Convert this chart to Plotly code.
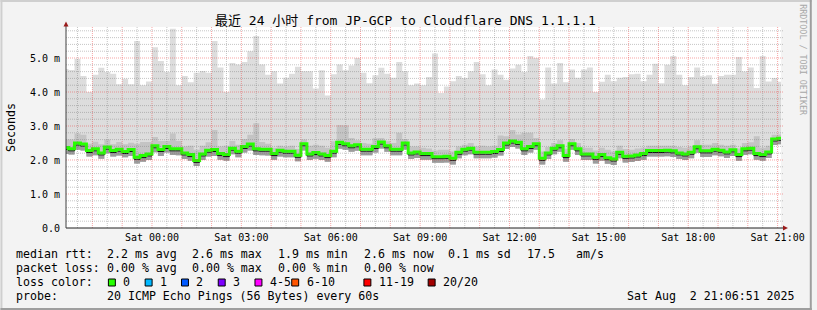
import plotly.graph_objects as go
import pandas as pd

# ---------------- data ----------------
# one value per 12-minute column, first column starts Fri 2025-08-01 21:00
max_ms = [4.68, 4.65, 4.98, 4.47, 4.00, 4.51, 4.71, 4.59, 4.54, 4.23, 4.39,
          4.23, 5.50, 4.20, 4.31, 5.32, 4.91, 4.59, 5.86, 4.20, 4.47,
          4.29, 4.57, 4.62, 4.57, 5.50, 4.72, 4.00, 4.85, 4.81, 4.88,
          5.20, 5.65, 4.81, 4.51, 4.61, 4.25, 4.42, 4.54, 4.74, 4.61,
          4.61, 4.10, 4.64, 3.90, 4.52, 4.81, 4.64, 4.78, 5.00, 4.57,
          4.26, 4.49, 4.71, 4.54, 4.42, 4.88, 4.61, 4.20, 4.25, 4.20,
          4.44, 5.13, 3.97, 4.16, 4.32, 4.47, 4.41, 4.61, 4.88, 4.52,
          4.20, 4.66, 4.51, 4.36, 4.69, 4.80, 4.59, 5.06, 5.00, 3.78,
          4.72, 4.25, 4.85, 4.29, 4.66, 4.42, 4.66, 4.72, 4.00, 4.30,
          4.51, 4.32, 4.42, 4.44, 4.52, 4.54, 4.32, 4.51, 4.83, 4.26,
          4.80, 5.06, 4.51, 4.20, 4.44, 4.72, 4.46, 4.49, 4.24, 4.47,
          4.51, 4.51, 5.03, 4.60, 4.72, 4.12, 5.06, 4.31, 4.41, 4.30]

upper_ms = [2.60, 2.60, 2.78, 2.74, 2.48, 2.54, 2.46, 2.60, 2.46, 2.53, 2.46,
            2.51, 2.48, 2.53, 2.53, 2.68, 2.56, 2.56, 2.78, 2.56, 2.40,
            2.42, 2.30, 2.42, 2.52, 2.88, 2.40, 2.42, 2.56, 2.45, 2.62,
            2.74, 3.08, 2.53, 2.48, 2.36, 2.42, 2.40, 2.42, 2.32, 2.60,
            2.42, 2.45, 2.42, 2.36, 2.55, 3.03, 3.02, 2.65, 2.58, 2.50,
            2.48, 2.64, 2.65, 2.55, 2.50, 2.80, 2.62, 2.40, 2.40, 2.36,
            2.34, 2.28, 2.30, 2.30, 2.25, 2.40, 2.45, 2.50, 2.40, 2.42,
            2.40, 2.42, 2.72, 2.70, 2.88, 2.75, 2.80, 2.80, 2.65, 2.25,
            2.38, 2.50, 2.58, 2.33, 2.62, 2.50, 2.36, 2.36, 2.28, 2.36,
            2.30, 2.25, 2.42, 2.32, 2.30, 2.34, 2.36, 2.42, 2.42, 2.42,
            2.42, 2.42, 2.38, 2.36, 2.40, 2.58, 2.45, 2.45, 2.50, 2.45,
            2.42, 2.45, 2.34, 2.50, 2.52, 2.70, 2.36, 2.42, 2.74, 2.75]

median_ms = [2.31, 2.27, 2.44, 2.41, 2.22, 2.27, 2.15, 2.32, 2.22, 2.26, 2.19,
             2.25, 2.02, 2.07, 2.12, 2.36, 2.25, 2.34, 2.27, 2.27, 2.15,
             2.10, 1.93, 2.12, 2.23, 2.25, 2.13, 2.10, 2.29, 2.20, 2.34,
             2.41, 2.27, 2.26, 2.26, 2.13, 2.23, 2.20, 2.20, 2.08, 2.42,
             2.12, 2.16, 2.12, 2.07, 2.20, 2.46, 2.42, 2.36, 2.39, 2.26,
             2.26, 2.34, 2.47, 2.36, 2.26, 2.26, 2.44, 2.15, 2.18, 2.13,
             2.13, 2.04, 2.04, 2.05, 1.99, 2.17, 2.26, 2.29, 2.17, 2.17,
             2.17, 2.19, 2.25, 2.44, 2.50, 2.46, 2.27, 2.34, 2.42, 1.99,
             2.15, 2.29, 2.36, 2.07, 2.42, 2.27, 2.12, 2.12, 2.02, 2.10,
             2.01, 1.97, 2.17, 2.05, 2.06, 2.09, 2.13, 2.22, 2.22, 2.22,
             2.23, 2.21, 2.15, 2.12, 2.17, 2.33, 2.21, 2.21, 2.26, 2.23,
             2.18, 2.24, 2.10, 2.27, 2.29, 2.13, 2.10, 2.18, 2.56, 2.58]

min_ms = [2.18, 2.16, 2.30, 2.28, 2.10, 2.14, 2.04, 2.20, 2.10, 2.13, 2.08,
          2.12, 1.90, 1.95, 2.00, 2.23, 2.12, 2.22, 2.15, 2.14, 2.03,
          1.98, 1.82, 2.00, 2.10, 2.12, 2.01, 1.98, 2.17, 2.08, 2.22,
          2.28, 2.15, 2.14, 2.13, 2.01, 2.10, 2.08, 2.08, 1.96, 2.28,
          2.00, 2.04, 2.00, 1.95, 2.08, 2.33, 2.30, 2.24, 2.27, 2.14,
          2.14, 2.22, 2.34, 2.24, 2.14, 2.14, 2.31, 2.03, 2.06, 2.01,
          2.01, 1.92, 1.92, 1.93, 1.87, 2.05, 2.14, 2.17, 2.05, 2.05,
          2.05, 2.07, 2.13, 2.32, 2.38, 2.34, 2.15, 2.22, 2.30, 1.87,
          2.03, 2.17, 2.24, 1.95, 2.30, 2.15, 2.00, 2.00, 1.90, 1.98,
          1.89, 1.85, 2.05, 1.93, 1.94, 1.97, 2.01, 2.10, 2.10, 2.10,
          2.11, 2.09, 2.03, 2.00, 2.05, 2.21, 2.09, 2.09, 2.14, 2.11,
          2.06, 2.12, 1.98, 2.15, 2.17, 2.01, 1.98, 2.06, 2.44, 2.46]

tick_times = ["2025-08-02 00:00", "2025-08-02 03:00", "2025-08-02 06:00",
              "2025-08-02 09:00", "2025-08-02 12:00", "2025-08-02 15:00",
              "2025-08-02 18:00", "2025-08-02 21:00"]
tick_labels = ["Sat 00:00", "Sat 03:00", "Sat 06:00", "Sat 09:00",
               "Sat 12:00", "Sat 15:00", "Sat 18:00", "Sat 21:00"]
y_tick_vals = [0, 1, 2, 3, 4, 5]
y_tick_labels = ["0.0", "1.0 m", "2.0 m", "3.0 m", "4.0 m", "5.0 m"]

title_text = "最近 24 小时 from JP-GCP to Cloudflare DNS 1.1.1.1"
stats_rtt = ["2.2 ms avg", "2.6 ms max", "1.9 ms min", "2.6 ms now",
             "0.1 ms sd", "17.5", "am/s"]
stats_loss = ["0.00 % avg", "0.00 % max", "0.00 % min", "0.00 % now"]
loss_labels = ["0", "1", "2", "3", "4-5", "6-10", "11-19", "20/20"]
loss_colors = ["#26ff00", "#00b8ff", "#0059ff", "#7e00ff", "#ff00ff",
               "#ff5500", "#ff0000", "#a10000"]
probe_text = "20 ICMP Echo Pings (56 Bytes) every 60s"
stamp_text = "Sat Aug  2 21:06:51 2025"

first_col = pd.Timestamp("2025-08-01 21:00:00")
end_time = pd.Timestamp("2025-08-02 21:06:51")
step = pd.Timedelta(minutes=12)

# ---------------- geometry ----------------
W, H = 817, 310
L, R, T, B = 66, 31, 27, 82
PW, PH = W - L - R, H - T - B
Y_TOP = 5.912

def fx(xp):
    return (xp - L) / PW

def fy(yp):
    return (H - B - yp) / PH

MONO = "DejaVu Sans Mono"
n = len(median_ms)
starts = [first_col + i * step for i in range(n)]
line_x = starts + [starts[-1] + step]
start_time = end_time - pd.Timedelta(hours=24)

fig = go.Figure()

def stepped(vals):
    return list(vals) + [vals[-1]]

def band(lo, hi, color):
    fig.add_trace(go.Scatter(
        x=line_x, y=stepped(lo), mode="lines",
        line=dict(width=0, shape="hv", color=color),
        hoverinfo="skip", showlegend=False))
    fig.add_trace(go.Scatter(
        x=line_x, y=stepped(hi), mode="lines", fill="tonexty",
        fillcolor=color, line=dict(width=0, shape="hv", color=color),
        hoverinfo="skip", showlegend=False))

band(min_ms, max_ms, "#dddddd")
band(min_ms, upper_ms, "#c4c4c4")
band(min_ms, median_ms, "#9c9c9c")

px_ms = Y_TOP / PH
fig.add_trace(go.Scatter(
    x=line_x, y=stepped(median_ms), mode="lines",
    line=dict(color="#101010", width=1, shape="hv"),
    hoverinfo="skip", showlegend=False))
green_y = [m + 2 * px_ms for m in median_ms]
fig.add_trace(go.Scatter(
    x=line_x, y=stepped(green_y), mode="lines",
    line=dict(color=loss_colors[0], width=3, shape="hv"),
    hoverinfo="skip", showlegend=False))

shapes = []
MAJ = "rgba(235,40,40,0.42)"
MIN = "rgba(120,120,120,0.42)"
# grid (drawn above the smoke, like rrdtool)
t = pd.Timestamp("2025-08-01 21:30")
while t <= end_time:
    major = t.minute == 0
    shapes.append(dict(type="line", xref="x", yref="paper", x0=t, x1=t,
                       y0=0, y1=1, layer="above",
                       line=dict(color=MAJ if major else MIN, width=1, dash="1px,1px")))
    t += pd.Timedelta(minutes=30)
for k in range(1, 30):
    v = k * 0.2
    if v > Y_TOP:
        break
    major = k % 5 == 0
    shapes.append(dict(type="line", xref="paper", yref="y", x0=0, x1=fx(789),
                       y0=v, y1=v, layer="above",
                       line=dict(color=MAJ if major else MIN, width=1, dash="1px,1px")))
# axis lines and arrows
shapes.append(dict(type="line", xref="paper", yref="paper", x0=0, x1=fx(789),
                   y0=0, y1=0, layer="above", line=dict(color="#202020", width=1)))
shapes.append(dict(type="line", xref="paper", yref="paper", x0=0, x1=0,
                   y0=0, y1=fy(24), layer="above", line=dict(color="#404040", width=1)))
shapes.append(dict(type="path", xref="paper", yref="paper", layer="above",
                   path=f"M {fx(788)} {fy(225.5)} L {fx(793)} {fy(228)} L {fx(788)} {fy(230.5)} Z",
                   fillcolor="#9a1a1a", line=dict(width=0)))
shapes.append(dict(type="path", xref="paper", yref="paper", layer="above",
                   path=f"M {fx(63.5)} {fy(26.5)} L {fx(66)} {fy(21.5)} L {fx(68.5)} {fy(26.5)} Z",
                   fillcolor="#9a1a1a", line=dict(width=0)))
# 3d frame
shapes += [
    dict(type="rect", xref="paper", yref="paper", x0=fx(0), x1=fx(W), y0=fy(0), y1=fy(2),
         fillcolor="#cfcfcf", line=dict(width=0), layer="above"),
    dict(type="rect", xref="paper", yref="paper", x0=fx(0), x1=fx(2), y0=fy(0), y1=fy(H),
         fillcolor="#cfcfcf", line=dict(width=0), layer="above"),
    dict(type="rect", xref="paper", yref="paper", x0=fx(0), x1=fx(W), y0=fy(H - 2), y1=fy(H),
         fillcolor="#9e9e9e", line=dict(width=0), layer="above"),
    dict(type="rect", xref="paper", yref="paper", x0=fx(W - 2), x1=fx(W), y0=fy(0), y1=fy(H),
         fillcolor="#9e9e9e", line=dict(width=0), layer="above"),
]

ann = []
def text(s, x, y, size=11.6, anchor="left", color="#000000", angle=0, family=MONO):
    ann.append(dict(text=s.replace(" ", "\u00a0"), xref="paper", yref="paper",
                    x=fx(x), y=fy(y), xanchor=anchor, yanchor="middle",
                    showarrow=False, borderpad=0, borderwidth=0, textangle=angle,
                    font=dict(family=family, size=size, color=color)))

text(title_text, 407.5, 21, size=13, anchor="center",
     family="DejaVu Sans Mono, Noto Sans CJK SC")
text("Seconds", 10, 127.5, angle=-90, anchor="center")
text("RRDTOOL / TOBI OETIKER", 808, 60, size=8.4, anchor="center",
     color="#a8a8a8", angle=90)

rtt_x = [107.3, 193.3, 279.3, 365.7, 451, 530, 579.3]
text("median rtt:", 16, 254)
for s, x in zip(stats_rtt, rtt_x):
    text(s, x, 254)
text("packet loss:", 16, 268.3)
for s, x in zip(stats_loss, rtt_x):
    text(s, x, 268.3)
text("loss color:", 16, 282.3)
box_x = [108.7, 145.7, 182.3, 219.3, 256.3, 293.3, 366, 430.7]
lab_x = [123.3, 160.3, 197, 234.3, 271, 308.3, 380.7, 445.3]
for lab, col, bx, lx in zip(loss_labels, loss_colors, box_x, lab_x):
    shapes.append(dict(type="rect", xref="paper", yref="paper",
                       x0=fx(bx), x1=fx(bx + 7), y0=fy(279), y1=fy(286),
                       fillcolor=col, line=dict(color="#000000", width=1), layer="above"))
    text(lab, lx, 282.3)
text("probe:", 16, 296)
text(probe_text, 107.3, 296)
text(stamp_text, 800, 296, anchor="right")

fig.update_layout(
    width=W, height=H, margin=dict(l=L, r=R, t=T, b=B, pad=0),
    paper_bgcolor="#f3f3f3", plot_bgcolor="#ffffff",
    showlegend=False,
    shapes=shapes, annotations=ann,
    xaxis=dict(type="date", range=[start_time, end_time], showgrid=False,
               zeroline=False, showline=False, ticks="",
               tickvals=tick_times, ticktext=tick_labels,
               tickfont=dict(family=MONO, size=10, color="#000000"),
               ticklabelstandoff=2, fixedrange=True),
    yaxis=dict(range=[0, Y_TOP], showgrid=False, zeroline=False, showline=False,
               ticks="", tickvals=y_tick_vals, ticktext=y_tick_labels,
               tickfont=dict(family=MONO, size=10, color="#000000"),
               ticklabelstandoff=5, fixedrange=True),
)

fig.write_html("out.html")
